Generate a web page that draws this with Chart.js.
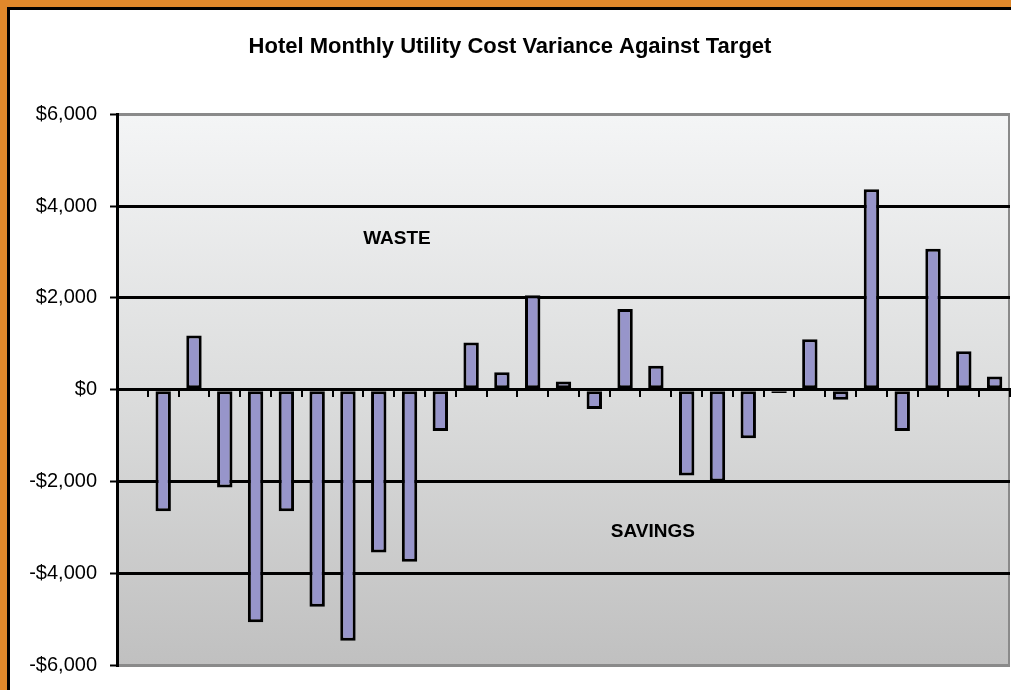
<!DOCTYPE html>
<html>
<head>
<meta charset="utf-8">
<title>Hotel Monthly Utility Cost Variance Against Target</title>
<script src="https://cdn.jsdelivr.net/npm/chart.js@4/dist/chart.umd.min.js"></script>
<style>
  body { margin: 0; width: 1011px; height: 690px; overflow: hidden; background: #fff; }
  #orange { position: absolute; left: 0; top: 0; width: 1011px; height: 690px; background: #e0882b; }
  #black { position: absolute; left: 7px; top: 7px; width: 1020px; height: 700px; background: #000; }
  #panel { position: absolute; left: 10px; top: 10px; width: 1020px; height: 700px; background: #fff; }
  #grafico { position: absolute; left: 10px; top: 10px; }
</style>
</head>
<body>
<div id="orange"></div>
<div id="black"></div>
<div id="panel"></div>
<canvas id="grafico" width="1001" height="680"></canvas>
<script>
// meses (el primero va vacio)
const meses = [
  "Jan-05", "Feb-05", "Mar-05", "Apr-05", "May-05", "Jun-05", "Jul-05", "Aug-05",
  "Sep-05", "Oct-05", "Nov-05", "Dec-05", "Jan-06", "Feb-06", "Mar-06", "Apr-06",
  "May-06", "Jun-06", "Jul-06", "Aug-06", "Sep-06", "Oct-06", "Nov-06", "Dec-06",
  "Jan-07", "Feb-07", "Mar-07", "Apr-07", "May-07"
];

// variacion contra el objetivo, en dolares
const variacion = [
  null, -2650, 1180, -2130, -5070, -2650, -4730, -5470, -3550, -3750,
  -900, 1030, 380, 2060, 180, -420, 1760, 520, -1870, -2000,
  -1060, -70, 1100, -220, 4370, -900, 3070, 840, 290
];

const ticksY = [-6000, -4000, -2000, 0, 2000, 4000, 6000];

const fuente = "'Liberation Sans', Arial, sans-serif";

const formatoDolar = (v) => (v < 0 ? "-$" : "$") + Math.abs(v).toLocaleString("en-US");

// fondo degradado del area del grafico
const fondo = {
  id: "fondo",
  beforeDraw(chart) {
    const { ctx, chartArea: a } = chart;
    const g = ctx.createLinearGradient(0, a.top, 0, a.bottom);
    g.addColorStop(0, "#f4f5f6");
    g.addColorStop(0.5, "#dcdddd");
    g.addColorStop(1, "#c0c0c0");
    ctx.save();
    ctx.fillStyle = g;
    ctx.fillRect(a.left, a.top, a.right - a.left, a.bottom - a.top);
    ctx.strokeStyle = "#8a8a8a";
    ctx.lineWidth = 2;
    ctx.beginPath();
    ctx.moveTo(a.right - 1, a.top);
    ctx.lineTo(a.right - 1, a.bottom);
    ctx.stroke();
    ctx.restore();
  },
};

// textos WASTE / SAVINGS
const etiquetas = {
  id: "etiquetas",
  afterDatasetsDraw(chart) {
    const { ctx, scales } = chart;
    ctx.save();
    ctx.font = "bold 19px " + fuente;
    ctx.fillStyle = "#000";
    ctx.textAlign = "center";
    ctx.textBaseline = "middle";
    ctx.fillText("WASTE", scales.x.getPixelForValue(8.59), scales.y.getPixelForValue(3280));
    ctx.fillText("SAVINGS", scales.x.getPixelForValue(16.9), scales.y.getPixelForValue(-3090));
    ctx.restore();
  },
};

const ctx = document.getElementById("grafico").getContext("2d");
const grafico = new Chart(ctx, {
  type: "bar",
  data: {
    labels: meses,
    datasets: [
      {
        label: "Variance",
        data: variacion,
        backgroundColor: "#9795ca",
        borderColor: "#000",
        borderWidth: 3,
        borderSkipped: false,
        barPercentage: 0.5,
        categoryPercentage: 1,
      },
    ],
  },
  options: {
    responsive: false,
    animation: false,
    layout: { padding: { left: 0, right: 1, top: 0, bottom: 24 } },
    plugins: {
      legend: { display: false },
      tooltip: { enabled: false },
      title: {
        display: true,
        text: "Hotel Monthly Utility Cost Variance Against Target",
        color: "#000",
        font: { family: fuente, size: 22, weight: "bold" },
        padding: { top: 24, bottom: 54 },
      },
    },
    scales: {
      x: {
        position: { y: 0 },
        offset: true,
        grid: {
          offset: true,
          drawOnChartArea: false,
          color: "#000",
          lineWidth: 2,
          tickLength: 6,
        },
        border: { color: "#000", width: 3 },
        ticks: { display: false },
      },
      y: {
        min: -6000,
        max: 6000,
        afterFit: (scale) => { scale.width = 107; },
        afterBuildTicks: (scale) => { scale.ticks = ticksY.map((v) => ({ value: v })); },
        grid: {
          color: (c) => (Math.abs(c.tick.value) === 6000 ? "#8a8a8a" : "#000"),
          lineWidth: 3,
          tickColor: "#000",
          tickWidth: 2,
          tickLength: 7,
        },
        border: { color: "#000", width: 3 },
        ticks: {
          color: "#000",
          padding: 13,
          font: { family: fuente, size: 20 },
          callback: (v) => formatoDolar(v),
        },
      },
    },
  },
  plugins: [fondo, etiquetas],
});
</script>
</body>
</html>
